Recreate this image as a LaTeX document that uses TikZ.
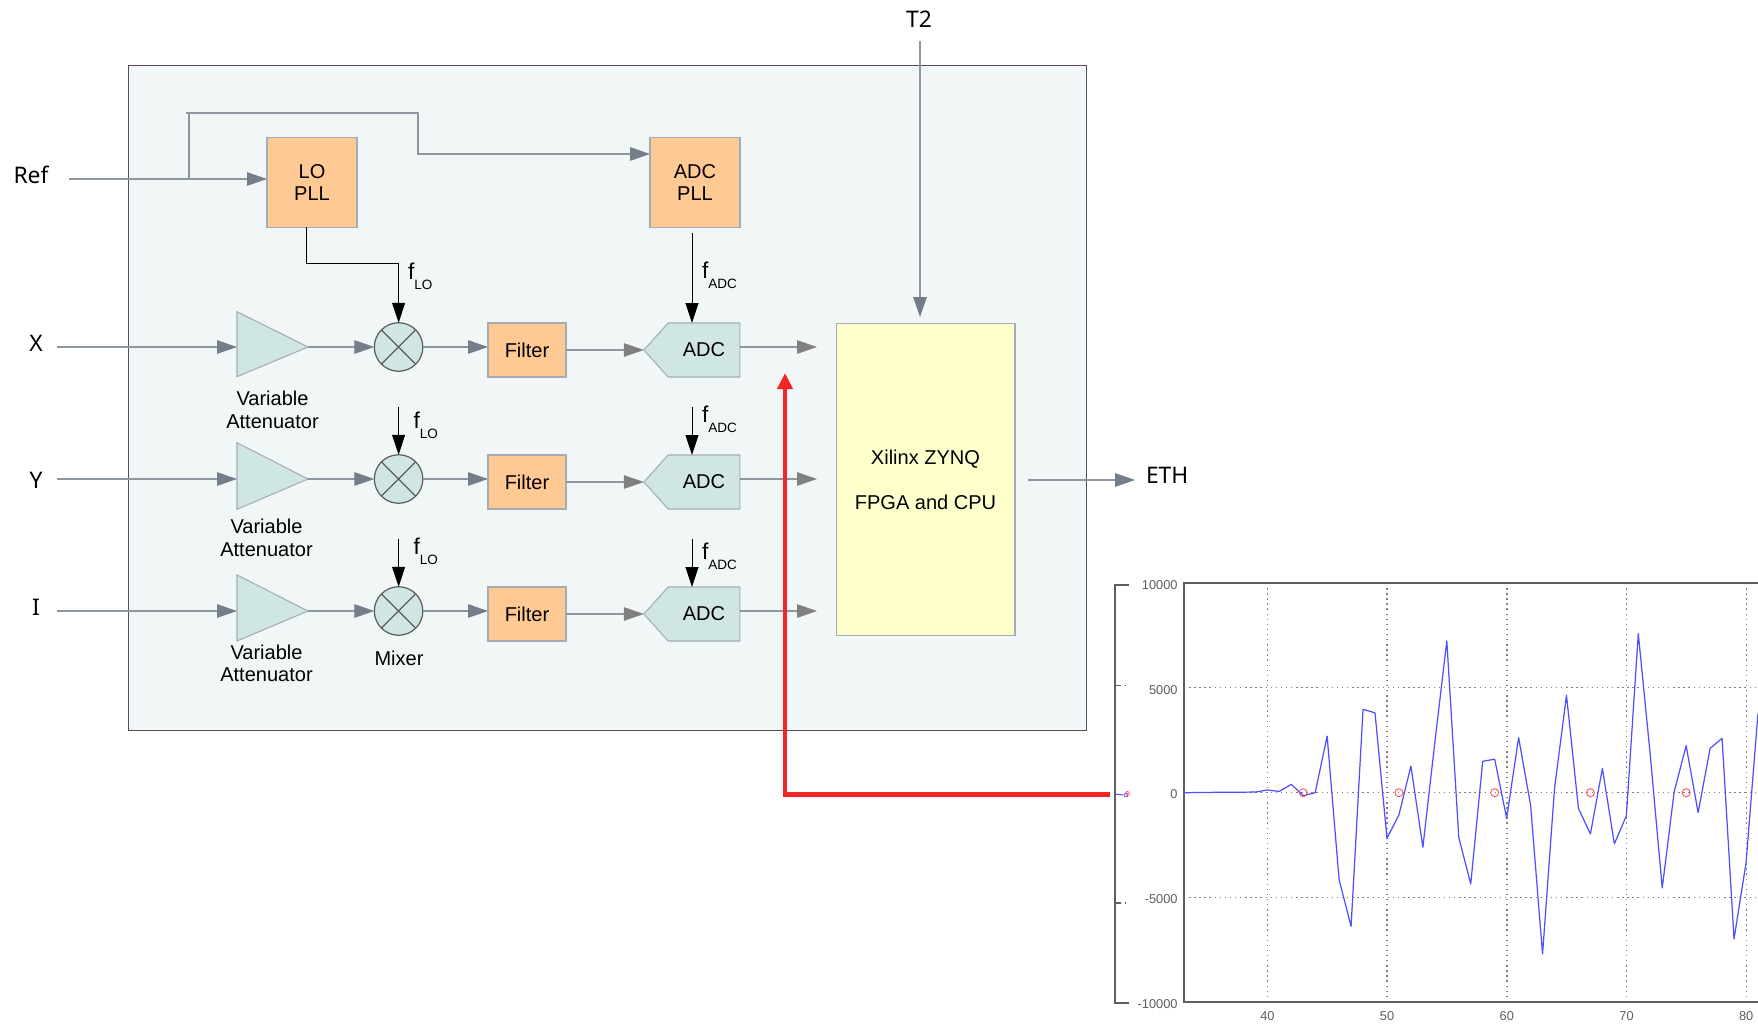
\documentclass[tikz,border=0pt]{standalone}
\usepackage{fontspec}
\setmainfont{Liberation Sans}
\newfontfamily\portfont{Noto Sans}
\usetikzlibrary{arrows.meta,shapes.symbols}

\definecolor{panelfill}{HTML}{F1F7F7}
\definecolor{panelline}{HTML}{5A4A5A}
\definecolor{pllfill}{HTML}{FFC993}
\definecolor{tealfill}{HTML}{CFE6E3}
\definecolor{zynqfill}{HTML}{FFFFCC}
\definecolor{edgegray}{HTML}{A4ADB4}
\definecolor{wiregray}{HTML}{8E979E}
\definecolor{tipslate}{HTML}{747E8B}
\definecolor{tipgray}{HTML}{808080}
\definecolor{plotblue}{HTML}{4F4FFF}
\definecolor{plotred}{HTML}{FF5050}
\definecolor{tapred}{HTML}{F52525}
\definecolor{plotgray}{HTML}{5E5E5E}

\newcommand{\freqlabel}[1]{{\fontsize{13}{13}\selectfont f}\raisebox{-5.7pt}{\fontsize{7.7}{8}\selectfont #1}}

\begin{document}
\begin{tikzpicture}[
    x=0.02cm, y=-0.02cm,
    every node/.style={font=\fontsize{11.4}{12.8}\selectfont, inner sep=0, outer sep=0},
    block/.style={
        draw=edgegray,
        line width=0.6pt,
        align=center
    },
    pll/.style={
        block,
        fill=pllfill,
        minimum width=1.80cm,
        minimum height=1.80cm
    },
    filt/.style={
        block,
        fill=pllfill,
        minimum width=1.56cm,
        minimum height=1.08cm
    },
    adc/.style={
        block,
        fill=tealfill,
        signal,
        signal to=west,
        signal from=nowhere,
        signal pointer angle=96,
        minimum width=1.92cm,
        minimum height=1.08cm
    },
    atten/.style={
        draw=edgegray,
        line width=0.6pt,
        fill=tealfill
    },
    mixer/.style={
        circle,
        draw=plotgray,
        line width=0.7pt,
        fill=tealfill,
        minimum size=0.97cm,
        path picture={
            \draw[plotgray, line width=0.7pt]
                (path picture bounding box.north west) -- (path picture bounding box.south east)
                (path picture bounding box.north east) -- (path picture bounding box.south west);
        }
    },
    port/.style={font=\portfont\fontsize{13}{15}\selectfont},
    flab/.style={anchor=base west},
    ticklab/.style={font=\fontsize{7.3}{8}\selectfont, text=plotgray},
    wire/.style={draw=wiregray, line width=0.6pt},
    arr/.style={wire, -{Triangle[length=0.40cm, width=0.27cm, color=tipslate]}},
    garr/.style={wire, -{Triangle[length=0.40cm, width=0.27cm, color=tipgray]}},
    karr/.style={black, line width=0.55pt, -{Triangle[length=0.40cm, width=0.26cm]}},
    tap/.style={tapred, line width=2.3pt, -{Triangle[length=0.32cm, width=0.30cm]}},
    frameline/.style={plotgray, line width=0.9pt},
    gridline/.style={tipgray, line width=0.8pt, dash pattern=on 0.8pt off 2.1pt},
    marker/.style={circle, draw=plotred, line width=0.5pt, minimum size=0.16cm}
]

    \useasboundingbox (0,0) rectangle (1758,1024);

    % Panel
    \node[
        draw=panelline,
        line width=0.6pt,
        fill=panelfill,
        minimum width=19.16cm,
        minimum height=13.30cm
    ] (panel) at (607.6,398) {};

    % PLLs
    \node[pll] (lopll) at (312,182.5) {LO\\PLL};
    \node[pll] (adcpll) at (695,182.5) {ADC\\PLL};

    % Attenuators
    \coordinate (attxin) at (237,347);
    \coordinate (attxout) at (308,347);
    \coordinate (attyin) at (237,479);
    \coordinate (attyout) at (308,479);
    \coordinate (attiin) at (237,611);
    \coordinate (attiout) at (308,611);
    \draw[atten] (237,311.7) -- (attxout) -- (237,376.7) -- cycle;
    \draw[atten] (237,442.7) -- (attyout) -- (237,509.3) -- cycle;
    \draw[atten] (237,575) -- (attiout) -- (237,641) -- cycle;

    \node[align=center] (attxlab) at (272.5,410) {Variable\\Attenuator};
    \node[align=center] (attylab) at (266.5,538) {Variable\\Attenuator};
    \node[align=center] (attilab) at (266.5,663.5) {Variable\\Attenuator};

    % Mixers
    \node[mixer] (mixx) at (398.6,347) {};
    \node[mixer] (mixy) at (398.6,479) {};
    \node[mixer] (mixi) at (398.6,611) {};
    \node (mixlab) at (399,658) {Mixer};

    % Filters
    \node[filt] (filx) at (527,350) {Filter};
    \node[filt] (fily) at (527,482) {Filter};
    \node[filt] (fili) at (527,614) {Filter};

    % ADCs
    \node[adc] (adcx) at (704,350) {ADC};
    \node[adc] (adcy) at (704,482) {ADC};
    \node[adc] (adci) at (704,614) {ADC};

    % FPGA
    \node[
        block,
        fill=zynqfill,
        minimum width=3.58cm,
        minimum height=6.23cm
    ] (zynq) at (925.5,479.5) {Xilinx ZYNQ\\[12.8pt]FPGA and CPU};

    % Ports
    \node[port] (ref) at (31,175) {Ref};
    \node[port] (xin) at (36,343) {X};
    \node[port] (yin) at (36,480) {Y};
    \node[port] (iin) at (36,607) {I};
    \node[port] (tt) at (919,19) {T2};
    \node[port, anchor=west] (eth) at (1146,475) {ETH};

    % Free ends
    \coordinate (refstart) at (69,179);
    \coordinate (reftap) at (189,179);
    \coordinate (reftop) at (189,113);
    \coordinate (refstub) at (186,113);
    \coordinate (refturn) at (418,154);
    \coordinate (xstart) at (57,347);
    \coordinate (ystart) at (57,479);
    \coordinate (istart) at (57,611);
    \coordinate (ttstart) at (920,41.5);
    \coordinate (ttend) at (920,317);
    \coordinate (outx) at (817,347);
    \coordinate (outy) at (817,479);
    \coordinate (outi) at (817,611);
    \coordinate (ethstart) at (1027.5,480);
    \coordinate (ethend) at (1135,480);
    \coordinate (lostart) at (306,227);
    \coordinate (locorner) at (398.6,263);
    \coordinate (adcstart) at (692,233);
    \coordinate (foty) at (398.6,407);
    \coordinate (foti) at (398.6,539);
    \coordinate (fady) at (692,407);
    \coordinate (fadi) at (692,539);

    % Reference clock
    \draw[arr] (refstart) -- (lopll.west |- refstart);
    \draw[wire] (reftap) -- (reftop);
    \draw[arr] (refstub) -| (refturn) -- (adcpll.west |- refturn);

    % Clock feeds
    \draw[karr] (lostart) |- (locorner) -- (mixx.north);
    \draw[karr] (adcstart) -- (adcstart |- adcx.north);
    \draw[karr] (foty) -- (mixy.north);
    \draw[karr] (foti) -- (mixi.north);
    \draw[karr] (fady) -- (fady |- adcy.north);
    \draw[karr] (fadi) -- (fadi |- adci.north);

    \node[flab] (flox) at (408,279) {\freqlabel{LO}};
    \node[flab] (floy) at (413.5,428) {\freqlabel{LO}};
    \node[flab] (floi) at (413.5,554) {\freqlabel{LO}};
    \node[flab] (fadcx) at (702,278) {\freqlabel{ADC}};
    \node[flab] (fadcy) at (702,422) {\freqlabel{ADC}};
    \node[flab] (fadci) at (702,559) {\freqlabel{ADC}};

    % Signal rows
    \draw[arr] (xstart) -- (attxin);
    \draw[arr] (attxout) -- (mixx.west);
    \draw[arr] (mixx.east) -- (mixx.east -| filx.west);
    \draw[garr] (filx.east) -- (adcx.west);
    \draw[garr] (adcx.east |- outx) -- (outx);

    \draw[arr] (ystart) -- (attyin);
    \draw[arr] (attyout) -- (mixy.west);
    \draw[arr] (mixy.east) -- (mixy.east -| fily.west);
    \draw[garr] (fily.east) -- (adcy.west);
    \draw[garr] (adcy.east |- outy) -- (outy);

    \draw[arr] (istart) -- (attiin);
    \draw[arr] (attiout) -- (mixi.west);
    \draw[arr] (mixi.east) -- (mixi.east -| fili.west);
    \draw[garr] (fili.east) -- (adci.west);
    \draw[garr] (adci.east |- outi) -- (outi);

    % FPGA links
    \draw[arr] (ttstart) -- (ttend);
    \draw[arr] (ethstart) -- (ethend);

    % Plot axes
    \draw[frameline] (1129.4,585) -- (1114.7,585) -- (1114.7,1003) -- (1129.4,1003);
    \draw[frameline] (1114.7,685.7) -- (1121,685.7) (1125,685.7) -- (1126,685.7);
    \draw[frameline] (1114.7,903) -- (1121,903) (1125,903) -- (1126,903);

    \draw[gridline] (1267.4,583) -- (1267.4,1002);
    \draw[gridline] (1387.1,583) -- (1387.1,1002);
    \draw[gridline] (1506.8,583) -- (1506.8,1002);
    \draw[gridline] (1626.5,583) -- (1626.5,1002);
    \draw[gridline] (1746.2,583) -- (1746.2,1002);
    \draw[gridline] (1184,687.7) -- (1758,687.7);
    \draw[gridline] (1184,792.7) -- (1758,792.7);
    \draw[gridline] (1184,897.7) -- (1758,897.7);
    \draw[frameline] (1758,583) -- (1184,583) -- (1184,1002) -- (1758,1002);

    \node[ticklab, anchor=east] (ytop) at (1177.6,585) {10000};
    \node[ticklab, anchor=east] (yfive) at (1177.6,690) {5000};
    \node[ticklab, anchor=east] (yzero) at (1177.6,794) {0};
    \node[ticklab, anchor=east] (yneg) at (1177.6,899) {-5000};
    \node[ticklab, anchor=east] (ybot) at (1177.6,1004) {-10000};

    \node[ticklab] (xforty) at (1267.4,1016) {40};
    \node[ticklab] (xfifty) at (1387.1,1016) {50};
    \node[ticklab] (xsixty) at (1506.8,1016) {60};
    \node[ticklab] (xseventy) at (1626.5,1016) {70};
    \node[ticklab] (xeighty) at (1746.2,1016) {80};

    % Samples
    \begin{scope}[shift={(788.6,792.7)}, x=0.2394cm, y=0.4192cm]
        \draw[plotblue, line width=0.7pt, line join=round] plot coordinates {
            (33,0) (36,0.02) (39,0.03) (40,0.13) (41,0.06) (42,0.40) (43,-0.14) (44,0)
            (45,2.70) (46,-4.15) (47,-6.38) (48,3.98) (49,3.81) (50,-2.17) (51,-1.06)
            (52,1.27) (53,-2.60) (54,2.40) (55,7.24) (56,-2.14) (57,-4.35) (58,1.50)
            (59,1.60) (60,-1.22) (61,2.63) (62,-0.59) (63,-7.70) (64,0.20) (65,4.65)
            (66,-0.75) (67,-1.97) (68,1.16) (69,-2.44) (70,-1.11) (71,7.59) (72,1.80)
            (73,-4.55) (74,0.05) (75,2.24) (76,-0.95) (77,2.11) (78,2.60) (79,-6.98)
            (80,-3.36) (81,3.78)
        };
        \node[marker] (sama) at (43,0) {};
        \node[marker] (samb) at (51,0) {};
        \node[marker] (samc) at (59,0) {};
        \node[marker] (samd) at (67,0) {};
        \node[marker] (same) at (75,0) {};
    \end{scope}

    % Squeezed copy on the left axis
    \draw[plotblue, line width=0.6pt] (1114.7,794) -- (1123,795);
    \node[circle, draw=plotblue, line width=0.4pt, minimum size=0.08cm] (tinyb) at (1126,795) {};
    \node[circle, draw=plotred, line width=0.4pt, minimum size=0.08cm] (tinyr) at (1127.5,793.5) {};

    % Tap
    \coordinate (tapstart) at (1110,794.5);
    \coordinate (tapend) at (785,373);
    \draw[tap] (tapstart) -| (tapend);

\end{tikzpicture}
\end{document}
